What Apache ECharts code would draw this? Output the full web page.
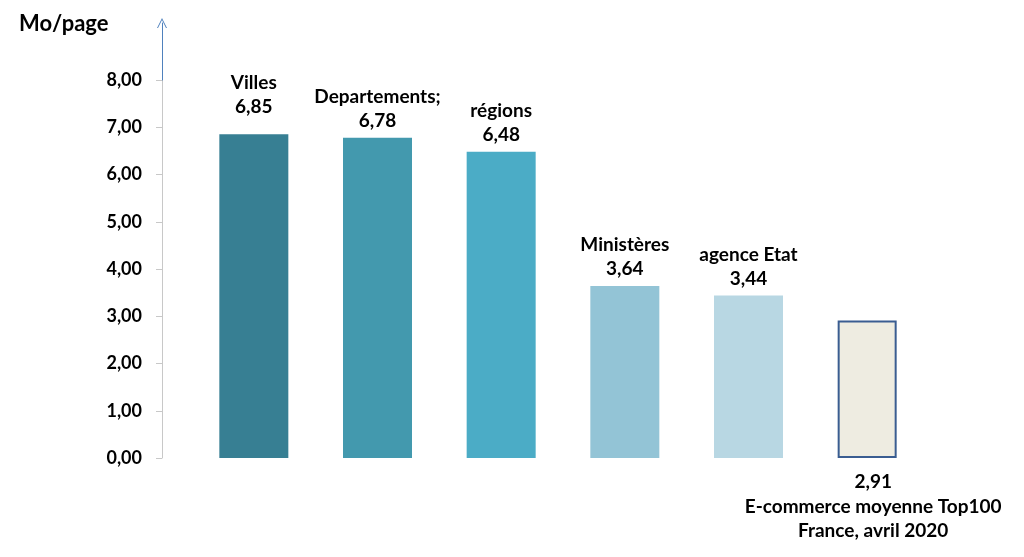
<!DOCTYPE html>
<html>
<head>
<meta charset="utf-8">
<script src="https://cdn.jsdelivr.net/npm/echarts@6/dist/echarts.min.js"></script>
<style>
html,body{margin:0;padding:0;background:#fff;}
#chart{width:1024px;height:557px;}
</style>
</head>
<body>
<div id="chart"></div>
<script>
const categories = ['Villes', 'Departements;', 'régions', 'Ministères', 'agence Etat', 'E-commerce moyenne Top100\nFrance, avril 2020'];
const values = [6.85, 6.78, 6.48, 3.64, 3.44, 2.91];
const yTicks = [0, 1, 2, 3, 4, 5, 6, 7, 8];
const colors = ['#377f93', '#4399ae', '#4bacc6', '#93c4d6', '#b8d7e3', '#eeece1'];

const fmt = v => v.toFixed(2).replace('.', ',');
const FONT = 'Lato';

const chart = echarts.init(document.getElementById('chart'));

const mainData = values.map((v, i) => {
  if (i === values.length - 1) return '-';
  const item = { value: v, itemStyle: { color: colors[i] } };
  if (i === 0) item.label = { distance: 15 };
  return item;
});
const lastData = values.map((v, i) => i === values.length - 1 ? {
  value: v,
  itemStyle: { color: colors[i], borderColor: '#3a5d91', borderWidth: 2 }
} : '-');

const gridLeft = 187;
const gridWidth = 742;

chart.setOption({
  animation: false,
  title: {
    text: 'Mo/page',
    left: 14, top: 8,
    textStyle: { fontFamily: FONT, fontWeight: 'bold', fontSize: 22, color: '#000' }
  },
  grid: [
    { left: gridLeft, width: gridWidth, top: 80, bottom: 99 },
    { left: gridLeft, width: gridWidth, top: 23, height: 57 }
  ],
  xAxis: [
    {
      gridIndex: 0, type: 'category', data: categories,
      axisLine: { show: false }, axisTick: { show: false }, axisLabel: { show: false }
    },
    { gridIndex: 1, type: 'category', data: categories, show: false }
  ],
  yAxis: [
    {
      gridIndex: 0, type: 'value', min: yTicks[0], max: yTicks[yTicks.length - 1], interval: 1,
      offset: 25,
      axisLine: { show: true, lineStyle: { color: '#c8c8c8', width: 1 } },
      axisTick: { show: true, length: 6, lineStyle: { color: '#c8c8c8' } },
      splitLine: { show: false },
      axisLabel: {
        margin: 20, fontFamily: FONT, fontWeight: 'bold', fontSize: 18, color: '#000',
        formatter: v => fmt(v)
      }
    },
    {
      gridIndex: 1, type: 'value', min: 0, max: 1, offset: 25,
      axisLine: {
        show: true, lineStyle: { color: '#4f81bd', width: 1 },
        symbol: ['none', 'path://M0,10 L5,0 L10,10 L9,10 L5,2 L1,10 Z'],
        symbolSize: [10, 10], symbolOffset: [0, 0]
      },
      axisTick: { show: false }, axisLabel: { show: false }, splitLine: { show: false }
    }
  ],
  series: [
    {
      type: 'bar', xAxisIndex: 0, yAxisIndex: 0,
      data: mainData, barWidth: 69, barGap: '-100%',
      label: {
        show: true, position: 'top', distance: 5,
        fontFamily: FONT, fontWeight: 'bold', fontSize: 19, color: '#000', lineHeight: 24,
        formatter: p => categories[p.dataIndex] + '\n' + fmt(values[p.dataIndex])
      }
    },
    {
      type: 'bar', xAxisIndex: 0, yAxisIndex: 0,
      data: lastData, barWidth: 59, barGap: '-100%',
      label: {
        show: true, position: 'bottom', distance: 12, offset: [6, 0],
        fontFamily: FONT, fontWeight: 'bold', fontSize: 19, color: '#000', lineHeight: 24.5,
        formatter: p => fmt(values[p.dataIndex]) + '\n' + categories[p.dataIndex]
      }
    }
  ]
});
</script>
</body>
</html>
